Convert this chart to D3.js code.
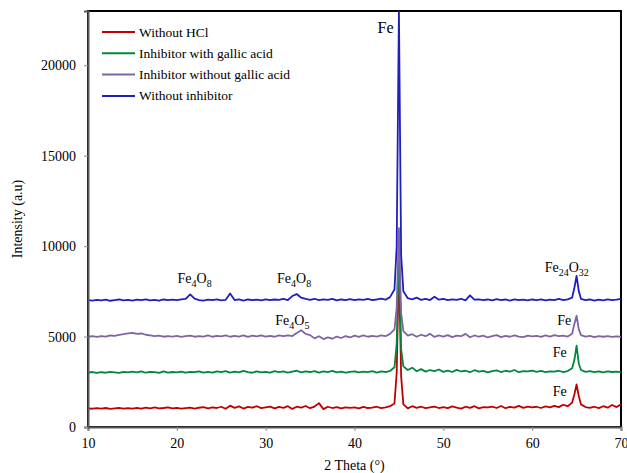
<!DOCTYPE html>
<html>
<head>
<meta charset="utf-8">
<script src="https://cdn.jsdelivr.net/npm/d3@7"></script>
<style>
  body { margin: 0; background: #fff; }
  text { font-family: "Liberation Serif", "Times New Roman", serif; fill: #000; }
</style>
</head>
<body>
<svg id="chart"></svg>
<script>
// 2 theta grid (finer around the two Fe peaks)
const twoTheta = [...d3.range(10, 44.51, 0.5), 44.75, 45, 45.25,
  ...d3.range(45.5, 64.51, 0.5), 64.75, 65, 65.25, ...d3.range(65.5, 70.01, 0.5)];

const withoutHCl = [
  1030, 1010, 1045, 1020, 1050, 1005, 1035, 1060, 1015, 1040,
  1020, 1055, 1010, 1070, 1035, 1080, 1025, 1050, 1090, 1030,
  1060, 1015, 1045, 1075, 1020, 1065, 1100, 1035, 1080, 1050,
  1120, 1010, 1180, 1060, 1140, 1020, 1110, 1070, 1150, 1040,
  1090, 1130, 1030, 1110, 1060, 1150, 1000, 1120, 1070, 1160,
  1040, 1130, 1320, 990, 1120, 1050, 1100, 1030, 1090, 1060,
  1080, 1030, 1110, 1050, 1070, 1120, 1040, 1090, 1150, 1300,
  3000, 9000, 2800,
  1250, 1030, 1150, 1060, 1120, 1040, 1090, 1130, 1050, 1100,
  1040, 1140, 1070, 1020, 1120, 1060, 1150, 1030, 1100, 1080,
  1130, 1050, 1160, 1040, 1110, 1070, 1170, 1060, 1130, 1080,
  1120, 1050, 1140, 1080, 1170, 1100, 1230, 1150, 1350,
  1800, 2350, 1700,
  1250, 1100, 1060, 1120, 1040, 1150, 1070, 1220, 1100, 1250
];

const withGallic = [
  3010, 3040, 2990, 3030, 3000, 3050, 3020, 2995, 3045, 3015,
  3060, 3020, 3080, 3000, 3050, 3030, 2990, 3070, 3010, 3040,
  3020, 3060, 3000, 3050, 3030, 3080, 3010, 3045, 3000, 3070,
  3030, 3090, 3010, 3060, 3020, 3100, 3040, 3000, 3080, 3020,
  3050, 3010, 3090, 3030, 3070, 3000, 3060, 3110, 3020, 3070,
  3040, 3090, 3010, 3070, 3030, 3100, 3020, 3060, 3000, 3050,
  3080, 3020, 3060, 3030, 3090, 3010, 3070, 3040, 3100, 3300,
  4600, 10000, 4300,
  3350, 3150, 3280, 3080, 3200, 3060, 3150, 3090, 3180, 3050,
  3120, 3040, 3160, 3070, 3110, 3030, 3140, 3060, 3100, 3020,
  3090, 3130, 3040, 3110, 3060, 3150, 3030, 3090, 3070, 3120,
  3050, 3100, 3030, 3080, 3060, 3110, 3040, 3090, 3250,
  3700, 4500, 3500,
  3150, 3050, 3090, 3030, 3080, 3020, 3070, 3040, 3060, 3030
];

const withoutGallic = [
  4990, 5020, 4980, 5030, 5000, 5060, 5040, 5090, 5130, 5180,
  5200, 5150, 5170, 5100, 5060, 5020, 5050, 4990, 5030, 5000,
  5040, 4980, 5020, 5050, 4990, 5030, 5000, 5060, 4990, 5040,
  5010, 5060, 4990, 5040, 5000, 5070, 4980, 5050, 5010, 5060,
  5000, 5040, 4990, 5060, 5020, 5070, 5030, 5200, 5350, 5150,
  5080, 4900, 5020, 4860, 4950, 4880, 5000, 4920, 5030, 4950,
  5050, 4980, 5060, 4990, 5040, 5000, 5070, 5020, 5150, 5400,
  6600, 11000, 6300,
  5300, 5050, 5130, 4990, 5100, 5020, 5150, 4980, 5060, 5000,
  5080, 4970, 5050, 5020, 5150, 4960, 5060, 4990, 5050, 4950,
  5030, 5080, 4970, 5040, 4990, 5060, 5000, 4970, 5050, 5010,
  5040, 4980, 5060, 5000, 5080, 5020, 5050, 5000, 5150,
  5700, 6150, 5400,
  5080, 5000, 5040, 4970, 5030, 4990, 5020, 4980, 5010, 4990
];

const withoutInhibitor = [
  7010, 6990, 7030, 7000, 7040, 6980, 7020, 7050, 7000, 7030,
  6990, 7040, 7010, 7060, 7000, 7030, 6990, 7050, 7010, 7040,
  7020, 7060, 7080, 7330, 7100, 7020, 6990, 7040, 7010, 7060,
  7000, 7030, 7380, 7020, 7060, 6990, 7050, 7010, 7040, 7000,
  7060, 7010, 7050, 7030, 7090, 7020, 7240, 7350, 7150, 7080,
  7030, 7090, 7010, 7060, 7030, 7080, 7000, 7050, 7020, 7070,
  7010, 7060, 7030, 7080, 7010, 7050, 7100, 7040, 7180, 7600,
  10000, 23000, 9500,
  7500, 7120, 7060, 7150, 7030, 7090, 7020, 7200, 7040, 7080,
  7010, 7060, 7030, 7090, 7000, 7280, 7040, 7060, 7010, 7050,
  7000, 7070, 7020, 7050, 6990, 7060, 7010, 7040, 7000, 7050,
  7020, 7060, 7000, 7040, 7010, 7080, 7020, 7060, 7150,
  7700, 8350, 7500,
  7080, 7010, 7050, 6990, 7040, 7000, 7060, 7020, 7040, 7090
];

const seriesNames = ["Without HCl", "Inhibitor with gallic acid", "Inhibitor without gallic acid", "Without inhibitor"];
const seriesValues = [withoutHCl, withGallic, withoutGallic, withoutInhibitor];
const colors = ["#C00000", "#00873E", "#8064A2", "#1F1FBF"];

const xTicks = [10, 20, 30, 40, 50, 60, 70];
const yTicks = [0, 5000, 10000, 15000, 20000];

// peak labels: position in data units, text pieces (1 = subscript)
const peakLabels = [
  { x: 43.5, y: 21768, parts: [["Fe", 0]], size: 16 },
  { x: 22.0, y: 7956, parts: [["Fe", 0], ["4", 1], ["O", 0], ["8", 1]] },
  { x: 33.2, y: 7956, parts: [["Fe", 0], ["4", 1], ["O", 0], ["8", 1]] },
  { x: 33.0, y: 5635, parts: [["Fe", 0], ["4", 1], ["O", 0], ["5", 1]] },
  { x: 63.9, y: 8563, parts: [["Fe", 0], ["24", 1], ["O", 0], ["32", 1]] },
  { x: 63.6, y: 5635, parts: [["Fe", 0]] },
  { x: 63.1, y: 3867, parts: [["Fe", 0]] },
  { x: 63.1, y: 1713, parts: [["Fe", 0]] }
];

const width = 627, height = 473;
const margin = { top: 11, right: 6, bottom: 46, left: 88 };

const svg = d3.select("#chart").attr("width", width).attr("height", height);

const x = d3.scaleLinear().domain([10, 70]).range([margin.left, width - margin.right]);
const y = d3.scaleLinear().domain([0, 23000]).range([height - margin.bottom, margin.top]);

svg.append("clipPath").attr("id", "clip")
  .append("rect")
  .attr("x", margin.left).attr("y", margin.top)
  .attr("width", x(70) - x(10)).attr("height", y(0) - y(23000));

// frame
svg.append("rect")
  .attr("x", margin.left).attr("y", margin.top)
  .attr("width", x(70) - x(10)).attr("height", y(0) - y(23000))
  .attr("fill", "none").attr("stroke", "#000").attr("stroke-width", 2);

const line = d3.line()
  .x((d, i) => x(twoTheta[i]))
  .y(d => y(d));

svg.append("g").attr("clip-path", "url(#clip)")
  .selectAll("path")
  .data(seriesValues)
  .enter()
  .append("path")
  .attr("d", line)
  .attr("fill", "none")
  .attr("stroke", (d, i) => colors[i])
  .attr("stroke-width", 1.8)
  .attr("stroke-linejoin", "round");

// axes
const xAxis = svg.append("g")
  .attr("transform", `translate(0,${y(0)})`)
  .call(d3.axisBottom(x).tickValues(xTicks).tickSize(4).tickPadding(7));
const yAxis = svg.append("g")
  .attr("transform", `translate(${margin.left},0)`)
  .call(d3.axisLeft(y).tickValues(yTicks).tickSize(4).tickPadding(8).tickFormat(d3.format("d")));

[xAxis, yAxis].forEach(g => {
  g.select(".domain").attr("stroke", "#595959").attr("stroke-width", 2);
  g.selectAll(".tick line").attr("stroke", "#8c8c8c");
  g.selectAll(".tick text")
    .style("font-family", "'Liberation Serif', serif")
    .style("font-size", "14px").attr("fill", "#000");
});

svg.append("text")
  .attr("x", (x(10) + x(70)) / 2).attr("y", 470)
  .attr("text-anchor", "middle").style("font-size", "14px")
  .text("2 Theta (°)");

svg.append("text")
  .attr("transform", `translate(22,${(y(0) + y(23000)) / 2}) rotate(-90)`)
  .attr("text-anchor", "middle").style("font-size", "14px")
  .text("Intensity (a.u)");

// legend
const legend = svg.append("g").attr("transform", "translate(102,32)");
seriesNames.forEach((name, i) => {
  const row = legend.append("g").attr("transform", `translate(0,${i * 21.3})`);
  row.append("line").attr("x1", 0).attr("x2", 33).attr("y1", 0).attr("y2", 0)
    .attr("stroke", colors[i]).attr("stroke-width", 2);
  row.append("text").attr("x", 37).attr("y", 4.5)
    .style("font-size", "13.5px").text(name);
});

// peak annotations
peakLabels.forEach(p => {
  const t = svg.append("text")
    .attr("x", x(p.x)).attr("y", y(p.y))
    .attr("text-anchor", "middle")
    .style("font-size", (p.size || 14) + "px");
  let shifted = false;
  p.parts.forEach(([s, sub]) => {
    const ts = t.append("tspan").text(s);
    if (sub) {
      ts.style("font-size", "10px").attr("dy", shifted ? 0 : 4);
      shifted = true;
    } else if (shifted) {
      ts.attr("dy", -4);
      shifted = false;
    }
  });
});
</script>
</body>
</html>
